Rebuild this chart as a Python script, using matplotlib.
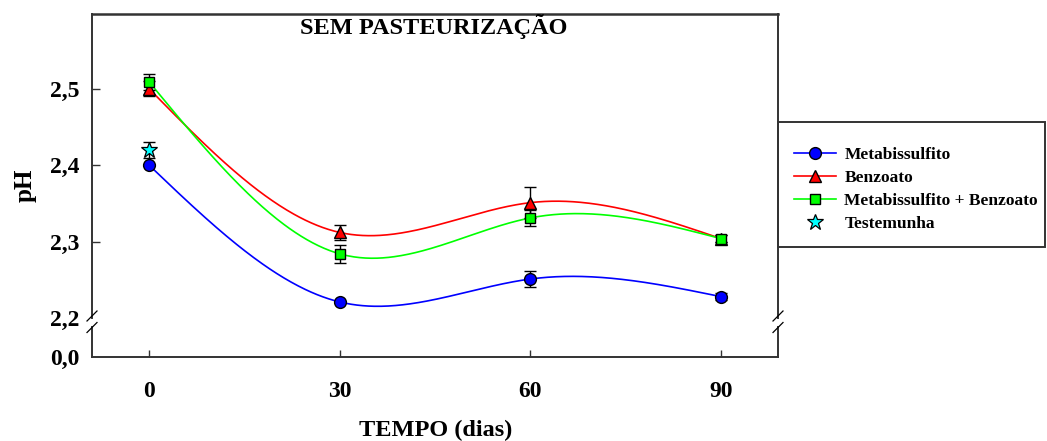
import numpy as np
import matplotlib
matplotlib.use("Agg")
import matplotlib.pyplot as plt
from matplotlib.lines import Line2D
from matplotlib.patches import Rectangle

plt.rcParams['font.family'] = ['Liberation Serif', 'DejaVu Serif']
plt.rcParams['font.weight'] = 'bold'

# ---- data ----
tempo = [0, 30, 60, 90]
meta = [2.40, 2.221, 2.251, 2.228]
meta_err = [0.0, 0.0, 0.01, 0.005]
benz = [2.50, 2.312, 2.351, 2.304]
benz_err = [0.01, 0.01, 0.02, 0.005]
metabenz = [2.509, 2.284, 2.331, 2.304]
metabenz_err = [0.01, 0.012, 0.01, 0.005]
test_x = [0]
test = [2.42]
test_err = [0.01]

labels = ["Metabissulfito", "Benzoato", "Metabissulfito + Benzoato", "Testemunha"]
yticks_up = [2.2, 2.3, 2.4, 2.5]
yticklabels_up = ["2,2", "2,3", "2,4", "2,5"]
xticks = [0, 30, 60, 90]


def natural_spline(x, y, xs):
    x = np.asarray(x, float); y = np.asarray(y, float)
    n = len(x)
    h = np.diff(x)
    A = np.zeros((n, n)); b = np.zeros(n)
    A[0, 0] = 1; A[-1, -1] = 1
    for i in range(1, n - 1):
        A[i, i - 1] = h[i - 1]
        A[i, i] = 2 * (h[i - 1] + h[i])
        A[i, i + 1] = h[i]
        b[i] = 6 * ((y[i + 1] - y[i]) / h[i] - (y[i] - y[i - 1]) / h[i - 1])
    M = np.linalg.solve(A, b)
    out = np.empty_like(xs)
    for k, t in enumerate(xs):
        i = min(max(np.searchsorted(x, t) - 1, 0), n - 2)
        a = x[i + 1] - t; c = t - x[i]
        out[k] = (M[i] * a**3 + M[i + 1] * c**3) / (6 * h[i]) \
            + (y[i] / h[i] - M[i] * h[i] / 6) * a \
            + (y[i + 1] / h[i] - M[i + 1] * h[i] / 6) * c
    return out


W, H = 1047, 441
fig = plt.figure(figsize=(W / 100, H / 100), dpi=100)

left, right = 92 / W, 778 / W
up_bot, up_top = 1 - 318 / H, 1 - 14 / H
lo_bot, lo_top = 1 - 357 / H, 1 - 327 / H

ax = fig.add_axes([left, up_bot, right - left, up_top - up_bot])
axl = fig.add_axes([left, lo_bot, right - left, lo_top - lo_bot], sharex=ax)

spine_c = '#333333'
for a in (ax, axl):
    for s in a.spines.values():
        s.set_color(spine_c)
        s.set_linewidth(1.4)
ax.spines['bottom'].set_visible(False)
axl.spines['top'].set_visible(False)
ax.spines['top'].set_linewidth(1.8)

ax.set_xlim(-9, 99)
ax.set_ylim(2.2, 2.598)
axl.set_ylim(0, 1)

xs = np.linspace(0, 90, 400)
series = [
    (meta, meta_err, '#0000FF', 'o', 8.5),
    (benz, benz_err, '#FF0000', '^', 8.5),
    (metabenz, metabenz_err, '#00FF00', 's', 7.5),
]
for yv, ye, col, mk, ms in series:
    ax.plot(xs, natural_spline(tempo, yv, xs), color=col, lw=1.2, zorder=2)
    ax.errorbar(tempo, yv, yerr=ye, fmt='none', ecolor='black', elinewidth=1.0,
                capsize=4.5, capthick=1.0, zorder=3)
    ax.plot(tempo, yv, linestyle='none', marker=mk, markersize=ms,
            markerfacecolor=col, markeredgecolor='black', markeredgewidth=1.0, zorder=4)
ax.errorbar(test_x, test, yerr=test_err, fmt='none', ecolor='black', elinewidth=1.0,
            capsize=4.5, capthick=1.0, zorder=3)
ax.plot(test_x, test, linestyle='none', marker='*', markersize=12,
        markerfacecolor='#00FFFF', markeredgecolor='black', markeredgewidth=0.9, zorder=4)

# ticks
ax.set_yticks(yticks_up)
ax.set_yticklabels(yticklabels_up)
ax.tick_params(axis='y', direction='in', length=6, width=1.0, pad=9,
               labelsize=17, colors=spine_c, labelcolor='black')
ax.yaxis.get_major_ticks()[0].tick1line.set_visible(False)
ax.tick_params(axis='x', which='both', bottom=False, top=False, labelbottom=False)

axl.set_yticks([0])
axl.set_yticklabels(["0,0"])
axl.tick_params(axis='y', direction='in', length=0, pad=9, labelsize=17)
axl.set_xticks(xticks)
axl.set_xticklabels([str(v) for v in xticks])
axl.tick_params(axis='x', direction='in', length=5, width=1.0, pad=17,
                labelsize=17, colors=spine_c, labelcolor='black')
for lab in ax.get_yticklabels() + axl.get_yticklabels() + axl.get_xticklabels():
    lab.set_fontweight('bold')

# break marks
for xp in (92, 778):
    for yc in (316, 327.5):
        fig.add_artist(Line2D([(xp - 5) / W, (xp + 5) / W],
                              [1 - (yc + 5) / H, 1 - (yc - 5) / H],
                              color='black', lw=0.9))

# labels
fig.text(434 / W, 1 - 34 / H, "SEM PASTEURIZAÇÃO", ha='center', va='baseline',
         fontsize=17.5, fontweight='bold')
fig.text(436 / W, 1 - 430 / H, "TEMPO (dias)", ha='center', va='center',
         fontsize=17.5, fontweight='bold')
fig.text(25 / W, 1 - 185 / H, "pH", ha='center', va='center', rotation=90,
         fontsize=18, fontweight='bold')

# legend box
fig.add_artist(Rectangle((778 / W, 1 - 247 / H), (1045 - 778) / W, (247 - 122) / H,
                         transform=fig.transFigure, fill=False,
                         edgecolor=spine_c, lw=1.4))
handles = [
    Line2D([], [], color='#0000FF', lw=1.2, marker='o', markersize=8.5,
           markerfacecolor='#0000FF', markeredgecolor='black'),
    Line2D([], [], color='#FF0000', lw=1.2, marker='^', markersize=8.5,
           markerfacecolor='#FF0000', markeredgecolor='black'),
    Line2D([], [], color='#00FF00', lw=1.2, marker='s', markersize=7.5,
           markerfacecolor='#00FF00', markeredgecolor='black'),
    Line2D([], [], linestyle='none', marker='*', markersize=12,
           markerfacecolor='#00FFFF', markeredgecolor='black', markeredgewidth=0.9),
]
fig.legend(handles, labels, loc='center left',
           bbox_to_anchor=(782 / W, 1 - 189.5 / H), frameon=False,
           prop={'size': 12.5, 'weight': 'bold'}, handlelength=2.4,
           handletextpad=0.5, labelspacing=0.40, borderpad=0.2)

fig.savefig("out.png", dpi=100)
